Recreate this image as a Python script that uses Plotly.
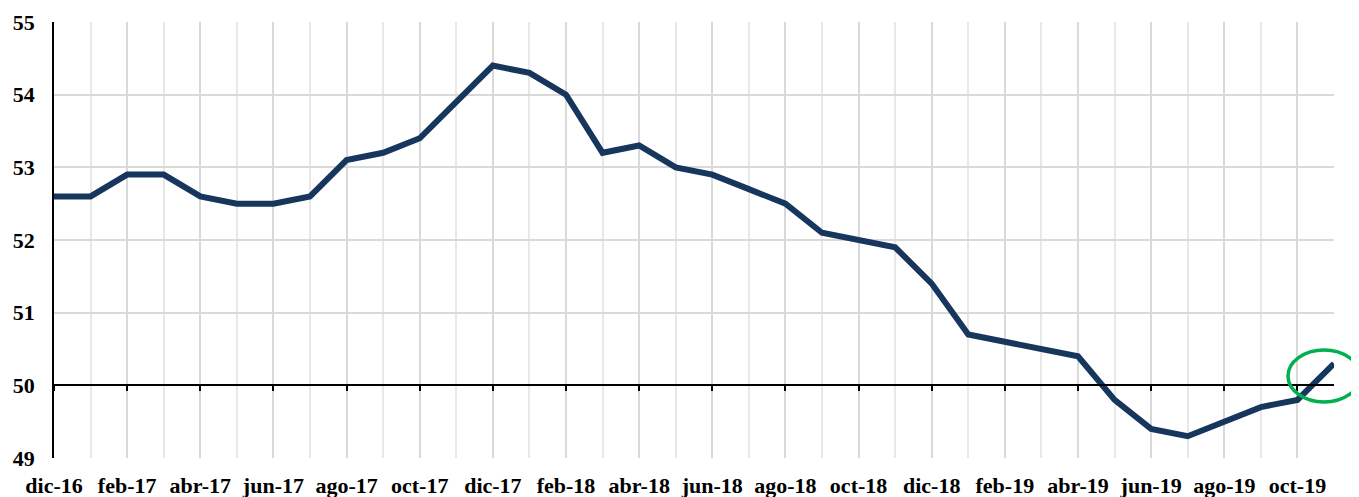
import plotly.graph_objects as go

# meses (dic-16 .. nov-19) y valores del indice
meses = ["dic-16", "ene-17", "feb-17", "mar-17", "abr-17", "may-17", "jun-17", "jul-17",
         "ago-17", "sep-17", "oct-17", "nov-17", "dic-17", "ene-18", "feb-18", "mar-18",
         "abr-18", "may-18", "jun-18", "jul-18", "ago-18", "sep-18", "oct-18", "nov-18",
         "dic-18", "ene-19", "feb-19", "mar-19", "abr-19", "may-19", "jun-19", "jul-19",
         "ago-19", "sep-19", "oct-19", "nov-19"]
valores = [52.6, 52.6, 52.9, 52.9, 52.6, 52.5, 52.5, 52.6,
           53.1, 53.2, 53.4, 53.9, 54.4, 54.3, 54.0, 53.2,
           53.3, 53.0, 52.9, 52.7, 52.5, 52.1, 52.0, 51.9,
           51.4, 50.7, 50.6, 50.5, 50.4, 49.8, 49.4, 49.3,
           49.5, 49.7, 49.8, 50.3]
y_ticks = [49, 50, 51, 52, 53, 54, 55]

idx = list(range(len(meses)))
tick_idx = idx[::2]
tick_txt = meses[::2]

font = dict(family="Liberation Serif", size=22, color="black", weight="bold")

fig = go.Figure()
fig.add_trace(go.Scatter(x=idx, y=valores, mode="lines",
                         line=dict(color="#17365d", width=6),
                         hoverinfo="skip", showlegend=False))
# eje auxiliar para la linea de 50 con marcas
fig.add_trace(go.Scatter(x=idx, y=valores, xaxis="x2", mode="lines",
                         line=dict(width=0), hoverinfo="skip", showlegend=False))

# la pagina deja 8px de margen en el body
fig.update_layout(
    width=1351, height=489,
    margin=dict(l=46, r=25, t=14, b=39),
    paper_bgcolor="white", plot_bgcolor="white",
    font=font,
    xaxis=dict(range=[0, len(meses) - 1], tickmode="array", tickvals=tick_idx,
               ticktext=tick_txt, showgrid=True, gridcolor="#d9d9d9", gridwidth=1.5,
               minor=dict(tickmode="linear", tick0=0, dtick=1, showgrid=True,
                          gridcolor="#e8e8e8", gridwidth=1.5),
               showline=False, zeroline=False, ticks="", tickfont=font,
               ticklabelstandoff=12, automargin=False),
    xaxis2=dict(overlaying="x", matches="x", anchor="free", position=1 / 6,
                showline=True, linecolor="black", linewidth=1.5, ticks="outside",
                ticklen=5, tickcolor="black", tickwidth=1.5, tickmode="array",
                tickvals=tick_idx, showticklabels=False, showgrid=False,
                zeroline=False, automargin=False),
    yaxis=dict(range=[49, 55], tickmode="array", tickvals=y_ticks,
               showgrid=True, gridcolor="#d9d9d9", gridwidth=1.5,
               showline=True, linecolor="black", linewidth=1.5,
               zeroline=False, ticks="", tickfont=font, ticklabelstandoff=13,
               automargin=False),
)

# elipse verde resaltando el ultimo dato
fig.add_shape(type="circle", xref="paper", yref="paper",
              x0=(1288 - 54) / 1280, x1=(1360 - 54) / 1280,
              y0=(458 - 402) / 436, y1=(458 - 350) / 436,
              line=dict(color="#00b050", width=3.5))

fig.write_html("out.html")
